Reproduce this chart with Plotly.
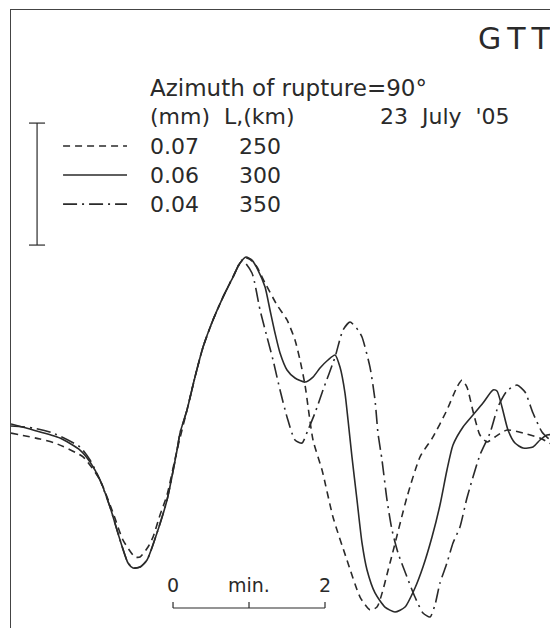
import plotly.graph_objects as go

# ---- data (time in minutes, amplitude in scale-bar units) ----
t_250 = [-2.132, -1.750, -1.553, -1.184, -0.961, -0.789, -0.658, -0.500, -0.434, -0.329, -0.263, -0.171, -0.079,
         0.053, 0.184, 0.289, 0.395, 0.526, 0.658, 0.789, 0.882, 0.961, 1.039, 1.105, 1.211, 1.368, 1.500, 1.605,
         1.671, 1.737, 1.842, 1.961, 2.105, 2.289, 2.461, 2.592, 2.684, 2.855, 3.079, 3.250, 3.421, 3.605, 3.737,
         3.803, 3.868, 3.947, 4.039, 4.132, 4.237, 4.395, 4.605, 4.829, 5.066]
a_250 = [-0.025, -0.074, -0.107, -0.221, -0.410, -0.680, -0.902, -1.041, -1.041, -0.959, -0.877, -0.697, -0.533,
         -0.164, 0.164, 0.434, 0.680, 0.902, 1.090, 1.254, 1.369, 1.410, 1.385, 1.336, 1.205, 1.025, 0.902, 0.738,
         0.574, 0.369, -0.082, -0.328, -0.713, -1.066, -1.369, -1.475, -1.451, -1.090, -0.549, -0.221, -0.057, 0.164, 0.352,
         0.410, 0.352, 0.156, -0.041, -0.098, -0.057, 0.000, -0.025, -0.066, -0.148]

t_300 = [-2.132, -1.842, -1.487, -1.224, -1.092, -0.961, -0.829, -0.697, -0.592, -0.526, -0.434, -0.342, -0.211,
         -0.079, 0.053, 0.092, 0.184, 0.289, 0.395, 0.526, 0.658, 0.789, 0.882, 0.961, 1.039, 1.118, 1.211, 1.276,
         1.342, 1.408, 1.500, 1.605, 1.737, 1.842, 1.934, 2.039, 2.132, 2.197, 2.263, 2.303, 2.355, 2.421, 2.487,
         2.553, 2.658, 2.789, 2.921, 3.053, 3.184, 3.289, 3.408, 3.513, 3.605, 3.684, 3.816, 3.947, 4.079, 4.211,
         4.263, 4.329, 4.408, 4.500, 4.605, 4.737, 4.829, 4.921, 5.000, 5.066]
a_300 = [0.049, 0.000, -0.066, -0.164, -0.262, -0.410, -0.631, -0.902, -1.090, -1.131, -1.123, -1.066, -0.844,
         -0.574, -0.164, -0.025, 0.164, 0.434, 0.680, 0.902, 1.090, 1.254, 1.369, 1.418, 1.393, 1.311, 1.172, 0.984,
         0.795, 0.631, 0.492, 0.426, 0.393, 0.434, 0.508, 0.574, 0.615, 0.516, 0.303, 0.082, -0.221, -0.574, -0.926,
         -1.148, -1.336, -1.451, -1.492, -1.451, -1.295, -1.123, -0.877, -0.615, -0.328, -0.123, 0.025, 0.123, 0.221, 0.328,
         0.320, 0.189, 0.000, -0.107, -0.148, -0.139, -0.082, -0.041, -0.041, -0.057]

t_350 = [-2.132, -1.842, -1.579, -1.224, -1.092, -0.961, -0.829, -0.697, -0.592, -0.526, -0.434, -0.342, -0.211,
         -0.079, 0.053, 0.092, 0.184, 0.289, 0.395, 0.526, 0.658, 0.789, 0.908, 1.039, 1.145, 1.237, 1.316, 1.408,
         1.500, 1.605, 1.697, 1.776, 1.868, 1.974, 2.132, 2.237, 2.329, 2.434, 2.487, 2.592, 2.658, 2.697, 2.750,
         2.816, 2.882, 2.961, 3.079, 3.184, 3.289, 3.382, 3.447, 3.513, 3.605, 3.684, 3.776, 3.868, 4.039, 4.171,
         4.276, 4.395, 4.526, 4.632, 4.737, 4.855, 4.934, 5.066]
a_350 = [0.033, 0.016, -0.025, -0.139, -0.246, -0.410, -0.631, -0.902, -1.090, -1.131, -1.123, -1.066, -0.844,
         -0.574, -0.164, -0.025, 0.164, 0.434, 0.680, 0.902, 1.090, 1.254, 1.393, 1.287, 0.984, 0.762, 0.574, 0.328,
         0.107, -0.082, -0.107, 0.000, 0.139, 0.328, 0.598, 0.820, 0.885, 0.820, 0.762, 0.516, 0.246, -0.025, -0.246,
         -0.574, -0.820, -1.008, -1.205, -1.369, -1.500, -1.533, -1.434, -1.254, -1.090, -0.926, -0.795, -0.557, -0.205, -0.025,
         0.189, 0.320, 0.369, 0.311, 0.139, -0.016, -0.066, -0.131]

series_amp_mm = ["0.07", "0.06", "0.04"]
series_L_km = ["250", "300", "350"]
series_dash = ["7px,5px", "solid", "14px,5px,2px,5px"]

station = "G\u2009T\u2009T"
title_line = "Azimuth of rupture=90°"
head_cols = "(mm)  L,(km)"
date_text = "23  July  '05"

scale_t = [0, 1, 2]
scale_labels = ["0", "min.", "2"]

INK = "#2a2a2a"
FONT = "DejaVu Sans"


def txt(x, y, s, size, xanchor="left"):
    fig.add_annotation(x=x, y=y, text=s.replace(" ", "&nbsp;"), showarrow=False, xanchor=xanchor,
                       yanchor="middle", font=dict(family=FONT, size=size, color=INK))


fig = go.Figure()
for t, a, d in zip([t_250, t_300, t_350], [a_250, a_300, a_350], series_dash):
    fig.add_trace(go.Scatter(x=t, y=a, mode="lines",
                             line=dict(color=INK, width=1.6, dash=d, shape="spline", smoothing=0.6),
                             hoverinfo="skip", showlegend=False))

# legend samples
leg_y = [2.328, 2.090, 1.852]
for y, d, mm, L in zip(leg_y, series_dash, series_amp_mm, series_L_km):
    fig.add_trace(go.Scatter(x=[-1.447, -0.605], y=[y, y], mode="lines",
                             line=dict(color=INK, width=1.6, dash=d), hoverinfo="skip", showlegend=False))
    txt(-0.33, y, mm, 22)
    txt(0.84, y, L, 22)

# amplitude scale bar (vertical)
bar_x, bar_top, bar_bot = -1.789, 2.516, 1.516
fig.add_trace(go.Scatter(x=[bar_x, bar_x], y=[bar_top, bar_bot], mode="lines",
                         line=dict(color=INK, width=1.2), hoverinfo="skip", showlegend=False))
for yy in (bar_top, bar_bot):
    fig.add_trace(go.Scatter(x=[-1.895, -1.684], y=[yy, yy], mode="lines",
                             line=dict(color=INK, width=1.2), hoverinfo="skip", showlegend=False))

# time scale bar
sb_y, tick_top, lab_y = -1.459, -1.410, -1.27
fig.add_trace(go.Scatter(x=[scale_t[0], scale_t[-1]], y=[sb_y, sb_y], mode="lines",
                         line=dict(color=INK, width=1.2), hoverinfo="skip", showlegend=False))
for tt, lab in zip(scale_t, scale_labels):
    fig.add_trace(go.Scatter(x=[tt, tt], y=[sb_y, tick_top], mode="lines",
                             line=dict(color=INK, width=1.2), hoverinfo="skip", showlegend=False))
    txt(tt, lab_y, lab, 19, "center")

txt(5.0, 3.213, station, 30, "right")
txt(-0.33, 2.80, title_line, 23)
txt(-0.33, 2.566, head_cols, 22)
txt(4.46, 2.566, date_text, 22, "right")

fig.update_layout(
    width=550, height=620, margin=dict(l=0, r=0, t=0, b=0),
    paper_bgcolor="white", plot_bgcolor="white",
    xaxis=dict(range=[-2.132, 5.066], domain=[3 / 550, 1], side="top", showline=True, linecolor="#444",
               linewidth=1, showgrid=False, zeroline=False, showticklabels=False, ticks=""),
    yaxis=dict(range=[-1.623, 3.443], domain=[0, 618 / 620], showline=True, linecolor="#444", linewidth=1,
               showgrid=False, zeroline=False, showticklabels=False, ticks=""),
)
fig.write_html("out.html")
